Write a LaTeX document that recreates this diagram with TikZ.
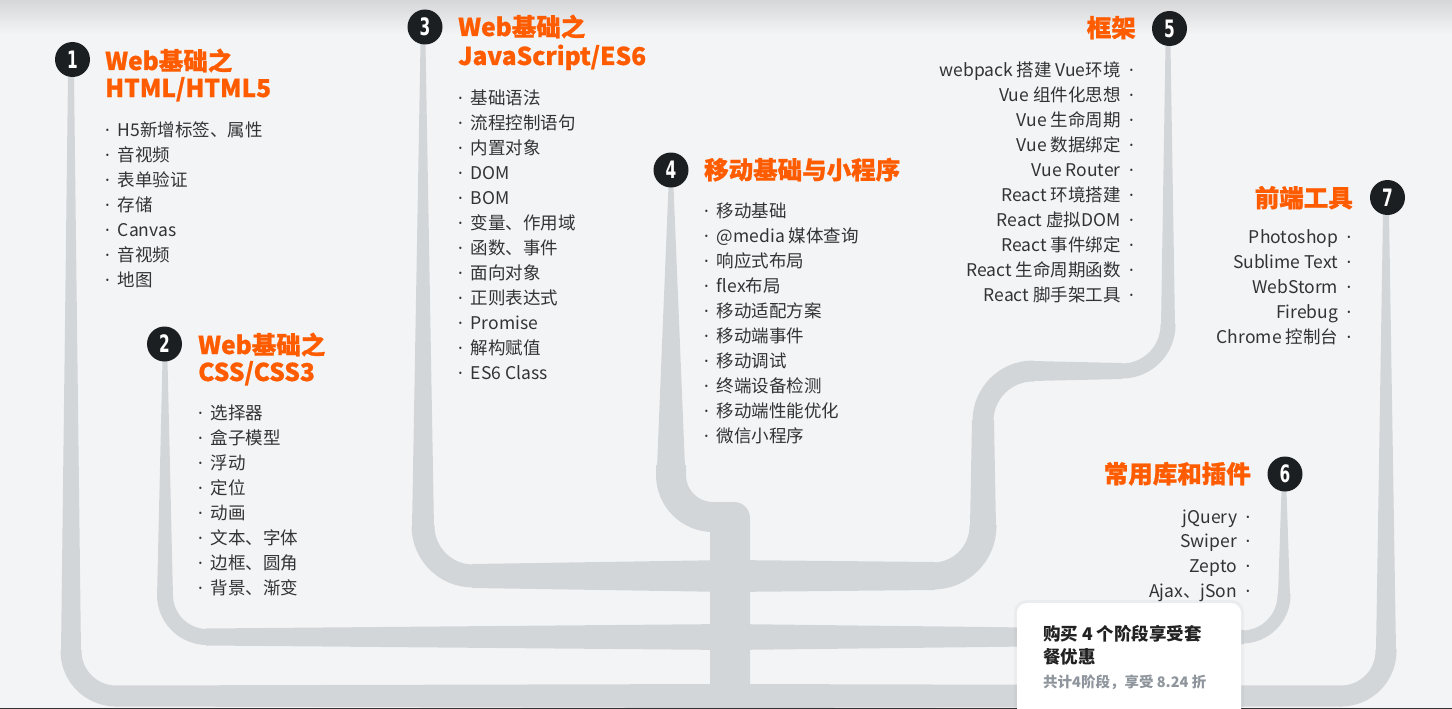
\documentclass[tikz,border=0pt]{standalone}
\usepackage{fontspec}
\setmainfont{Noto Sans CJK SC}
\newfontfamily\ttlfont[BoldFeatures={FakeBold=0.8}]{Noto Sans CJK SC}
\newfontfamily\latinfont{Noto Sans}
\newfontfamily\numfont[FakeStretch=0.64]{DejaVu Sans}
\definecolor{bg}{HTML}{F3F4F6}
\definecolor{tubec}{HTML}{D3D6D9}
\definecolor{orng}{HTML}{FF5C00}
\definecolor{badgec}{HTML}{1C1F22}
\definecolor{itemc}{HTML}{333333}
\definecolor{greyc}{HTML}{8E959C}
\definecolor{cardtxt}{HTML}{222222}
\newcommand\tubev[5]{\fill[tubec] ({#1-(#3)/2},#2) -- ({#1+(#3)/2},#2) -- ({#1+(#5)/2},#4) -- ({#1-(#5)/2},#4) -- cycle;}
\newcommand\tubeh[5]{\fill[tubec] (#2,{#1-(#3)/2}) -- (#2,{#1+(#3)/2}) -- (#4,{#1+(#5)/2}) -- (#4,{#1-(#5)/2}) -- cycle;}
\newcommand\bdot{{\latinfont ·}}
\begin{document}
\begin{tikzpicture}[x=1pt,y=-1pt,
  badge/.style={circle, fill=badgec, minimum size=35pt, inner sep=0pt, text=white,
    font=\numfont\bfseries\fontsize{24}{24}\selectfont},
  ttl/.style={inner sep=0pt, text=orng, font=\ttlfont\bfseries\fontsize{24.5}{27}\selectfont},
  item/.style={inner sep=0pt, text=itemc, font=\fontsize{17.5}{25}\selectfont},
  tubebend/.style={draw=tubec, line cap=butt}]
\useasboundingbox (0,0) rectangle (1452,709);
\fill[bg] (0,0) rectangle (1452,709);
\shade[top color=black!12!bg, bottom color=bg] (0,0) rectangle (1452,34);
% ---- tube 1 / 7
\tubev{71}{75}{6}{652}{20}
\draw[tubebend, line width=21, rounded corners=45] (71,650) -- (71,696) -- (117,696);
\tubeh{696}{115}{21}{730}{24}
\tubeh{696}{730}{24}{1342}{21}
\draw[tubebend, line width=21, rounded corners=45] (1340,696) -- (1386,696) -- (1386,649);
\tubev{1386}{651}{20}{212}{6}
% ---- tube 2 / 6
\tubev{165}{360}{5}{597}{16}
\draw[tubebend, line width=16, rounded corners=42] (165,595) -- (165,637) -- (208,637);
\tubeh{637}{206}{17}{730}{26}
\tubeh{637}{730}{26}{1244}{14}
\draw[tubebend, line width=13, rounded corners=42] (1242,637) -- (1284,637) -- (1284,594);
\tubev{1284}{596}{12}{490}{5}
% ---- tube 3 / 5
\tubev{423}{43}{5}{528}{22}
\draw[tubebend, line width=23, rounded corners=50] (423,526) -- (423,576) -- (474,576);
\tubeh{576}{472}{24}{730}{32}
\tubeh{576}{730}{32}{935}{28}
\draw[tubebend, line width=27, rounded corners=50] (933,576) -- (983,576) -- (983,525);
\tubev{983}{527}{26}{420}{22}
\draw[tubebend, line width=21, rounded corners=50] (983,422) -- (983,371) -- (1034,371);
\tubeh{371}{1032}{20}{1122}{16}
\draw[tubebend, line width=15, rounded corners=46] (1120,371) -- (1168,371) -- (1168,324);
\tubev{1168}{326}{14}{44}{5}
% ---- tube 4 and trunk
\tubev{671}{186}{5}{467}{28}
\draw[tubebend, line width=30, rounded corners=42] (671,465) -- (671,517) -- (726,517);
\fill[tubec, rounded corners=16] (710,502) rectangle (750,740);
% ---- bottom line and card
\fill[black!80] (0,707.8) rectangle (1452,709);
\fill[black, opacity=0.03, rounded corners=12] (1014,600) rectangle (1244,740);
\fill[white, rounded corners=10] (1017,603) rectangle (1241,740);
\node[inner sep=0pt, anchor=base west, text=cardtxt, font=\bfseries\fontsize{17.5}{20}\selectfont] (card1) at (1043,640) {购买 4 个阶段享受套};
\node[inner sep=0pt, anchor=base west, text=cardtxt, font=\bfseries\fontsize{17.5}{20}\selectfont] (card2) at (1043,663) {餐优惠};
\node[inner sep=0pt, anchor=base west, text=greyc, font=\bfseries\fontsize{14.5}{18}\selectfont] (card3) at (1043,687) {共计4阶段，享受 8.24 折};
% ---- badges
\node[badge] (c1) at (72.5,59.5) {1};
\node[badge] (c2) at (164.5,344) {2};
\node[badge] (c3) at (425,27) {3};
\node[badge] (c4) at (671,170) {4};
\node[badge] (c5) at (1169.5,28.5) {5};
\node[badge] (c6) at (1285,474) {6};
\node[badge] (c7) at (1387.5,197.5) {7};
% ---- titles
\node[ttl, anchor=base west] (t1a) at (105,70) {Web基础之};
\node[ttl, anchor=base west] (t1b) at (105,97) {HTML/HTML5};
\node[ttl, anchor=base west] (t2a) at (198,354) {Web基础之};
\node[ttl, anchor=base west] (t2b) at (198,381) {CSS/CSS3};
\node[ttl, anchor=base west] (t3a) at (458,36) {Web基础之};
\node[ttl, anchor=base west] (t3b) at (458,65) {JavaScript/ES6};
\node[ttl, anchor=base west] (t4) at (704,179) {移动基础与小程序};
\node[ttl, anchor=base east] (t5) at (1136,37) {框架};
\node[ttl, anchor=base east] (t6) at (1251,483) {常用库和插件};
\node[ttl, anchor=base east] (t7) at (1353,207) {前端工具};
% ---- lists
\foreach \t [count=\i] in {H5新增标签、属性,音视频,表单验证,存储,Canvas,音视频,地图}
  \node[item, anchor=base west] (l1-\i) at (105,{136.5+25*(\i-1)}) {\bdot\hspace{8pt}\t};
\foreach \t [count=\i] in {选择器,盒子模型,浮动,定位,动画,文本、字体,边框、圆角,背景、渐变}
  \node[item, anchor=base west] (l2-\i) at (198,{419.5+25*(\i-1)}) {\bdot\hspace{8pt}\t};
\foreach \t [count=\i] in {基础语法,流程控制语句,内置对象,DOM,BOM,变量、作用域,函数、事件,面向对象,正则表达式,Promise,解构赋值,ES6 Class}
  \node[item, anchor=base west] (l3-\i) at (458,{104.5+25*(\i-1)}) {\bdot\hspace{8pt}\t};
\foreach \t [count=\i] in {移动基础,@media 媒体查询,响应式布局,flex布局,移动适配方案,移动端事件,移动调试,终端设备检测,移动端性能优化,微信小程序}
  \node[item, anchor=base west] (l4-\i) at (704,{217.5+25*(\i-1)}) {\bdot\hspace{8pt}\t};
\foreach \t [count=\i] in {webpack 搭建 Vue环境,Vue 组件化思想,Vue 生命周期,Vue 数据绑定,Vue Router,React 环境搭建,React 虚拟DOM,React 事件绑定,React 生命周期函数,React 脚手架工具}
  \node[item, anchor=base east] (l5-\i) at (1134,{76.5+25*(\i-1)}) {\t\hspace{8.5pt}\bdot};
\foreach \t [count=\i] in {jQuery,Swiper,Zepto,Ajax、jSon}
  \node[item, anchor=base east] (l6-\i) at (1250.5,{523+24.8*(\i-1)}) {\t\hspace{8.5pt}\bdot};
\foreach \t [count=\i] in {Photoshop,Sublime Text,WebStorm,Firebug,Chrome 控制台}
  \node[item, anchor=base east] (l7-\i) at (1351.5,{243.5+25*(\i-1)}) {\t\hspace{8.5pt}\bdot};
\end{tikzpicture}
\end{document}
